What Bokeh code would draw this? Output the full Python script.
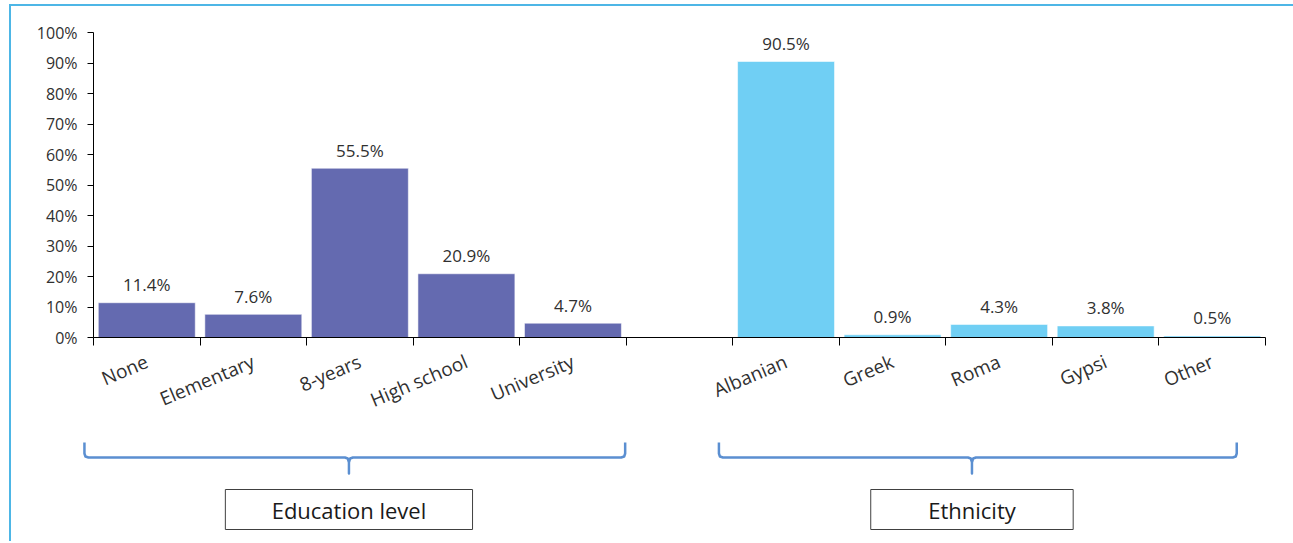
from bokeh.plotting import figure
from bokeh.layouts import column, row
from bokeh.models import Range1d, FixedTicker, PrintfTickFormatter, ColumnDataSource
from bokeh.core.properties import value
from bokeh.embed import file_html
from bokeh.resources import INLINE

# ---------------- data ----------------
edu_categories = ["None", "Elementary", "8-years", "High school", "University"]
edu_values = [11.4, 7.6, 55.5, 20.9, 4.7]
eth_categories = ["Albanian", "Greek", "Roma", "Gypsi", "Other"]
eth_values = [90.5, 0.9, 4.3, 3.8, 0.5]
group_names = ["Education level", "Ethnicity"]
y_ticks = [0, 10, 20, 30, 40, 50, 60, 70, 80, 90, 100]

EDU_COLOR = "#646AB0"
ETH_COLOR = "#70CFF4"
BRACE_COLOR = "#5B8FD1"
FONT = "Open Sans"
TXT = "#303030"

# slot layout: 5 education slots, 1 empty slot, 5 ethnicity slots
n_slots = len(edu_categories) + 1 + len(eth_categories)
edu_start = 0
eth_start = len(edu_categories) + 1
edu_x = [edu_start + i + 0.5 for i in range(len(edu_categories))]
eth_x = [eth_start + i + 0.5 for i in range(len(eth_categories))]

W = 1293
LEFT, RIGHT = 93, 28
FRAME_W = W - LEFT - RIGHT
slot_px = FRAME_W / n_slots
TOP, FRAME_H, BOTTOM = 32, 305, 100
H1 = TOP + FRAME_H + BOTTOM

# ---------------- main chart ----------------
p = figure(width=W, height=H1, output_backend="svg", toolbar_location=None,
           x_range=Range1d(0, n_slots), y_range=Range1d(0, 100),
           min_border_left=LEFT, min_border_right=RIGHT, min_border_top=TOP,
           min_border_bottom=BOTTOM)
p.outline_line_color = None
p.grid.visible = False
p.background_fill_color = "white"
p.border_fill_color = None

edu_src = ColumnDataSource(dict(x=edu_x, top=edu_values,
                                lab=[f"{v:.1f}%" for v in edu_values]))
eth_src = ColumnDataSource(dict(x=eth_x, top=eth_values,
                                lab=[f"{v:.1f}%" for v in eth_values]))
for src, col in ((edu_src, EDU_COLOR), (eth_src, ETH_COLOR)):
    p.vbar(x="x", top="top", bottom=0, width=0.91, source=src,
           fill_color=col, line_color="white", line_alpha=0.55, line_width=1)
    p.text(x="x", y="top", text="lab", source=src, text_align="center",
           text_baseline="alphabetic", y_offset=-18,
           text_font=value(FONT), text_font_size="17px", text_color=TXT)

# y axis
ya = p.yaxis[0]
ya.ticker = FixedTicker(ticks=y_ticks)
ya.formatter = PrintfTickFormatter(format="%d%%")
ya.major_tick_out = 6
ya.major_tick_in = 0
ya.minor_tick_line_color = None
ya.axis_line_color = "black"
ya.major_tick_line_color = "black"
ya.major_label_text_font = FONT
ya.major_label_text_font_size = "16px"
ya.major_label_text_color = TXT
ya.major_label_standoff = 10

# x axis: labels at slot centres, ticks at slot boundaries
xa = p.xaxis[0]
centers = edu_x + eth_x
xa.ticker = FixedTicker(ticks=centers, minor_ticks=list(range(n_slots + 1)))
xa.major_label_overrides = {c: lab for c, lab in zip(centers, edu_categories + eth_categories)}
xa.major_tick_line_color = None
xa.major_tick_out = 0
xa.major_tick_in = 0
xa.minor_tick_out = 8
xa.minor_tick_in = 0
xa.minor_tick_line_color = "black"
xa.axis_line_color = "black"
xa.major_label_orientation = 0.4
xa.major_label_standoff = 15
xa.major_label_text_font = FONT
xa.major_label_text_font_size = "19px"
xa.major_label_text_color = TXT

# ---------------- group braces ----------------
# full-width frame, same slot scale as the main chart
x_start = -LEFT / slot_px
x_end = n_slots + RIGHT / slot_px
q = figure(width=W, height=104, output_backend="svg", toolbar_location=None,
           x_range=Range1d(x_start, x_end), y_range=Range1d(104, 0),
           x_axis_location=None, y_axis_location=None,
           min_border_left=0, min_border_right=0, min_border_top=0, min_border_bottom=0)
q.outline_line_color = None
q.grid.visible = False
q.background_fill_color = None
q.border_fill_color = None

# brace extents in slot units (group spans)
spans = [(edu_start - 0.085, edu_start + len(edu_categories) - 0.01),
         (eth_start - 0.13, eth_start + len(eth_categories) - 0.27)]
box_w = [2.32, 1.90]
top_y, mid_y, tip_y = 5, 20, 36
r = 4 / slot_px
for (L, R), name, bw in zip(spans, group_names, box_w):
    C = (L + R) / 2 - 0.055
    xs = [L, L, L + 0.25 * r, L + r, C - r, C - 0.3 * r, C, C,
          C, C + 0.3 * r, C + r, R - r, R - 0.25 * r, R, R]
    ys = [top_y, mid_y - 4, mid_y - 1, mid_y, mid_y, mid_y + 1, mid_y + 5, tip_y,
          mid_y + 5, mid_y + 1, mid_y, mid_y, mid_y - 1, mid_y - 4, top_y]
    q.line(xs, ys, line_color=BRACE_COLOR, line_width=2.5, line_join="round")
    q.quad(left=C - bw / 2, right=C + bw / 2, top=52, bottom=92,
           fill_color="white", line_color="#404040", line_width=1)
    q.text(x=[C], y=[72], text=[name], text_align="center", text_baseline="middle",
           text_font=value(FONT), text_font_size="22px", text_color="#1a1a1a")

frame_css = ("inset 0 4px 0 0 white, inset 9px 0 0 0 white, "
             "inset 0 6px 0 0 #4DB6E6, inset 11px 0 0 0 #4DB6E6")
layout = column(p, row(q), styles={"box-shadow": frame_css, "background": "white"})
open("out.html", "w").write(file_html(layout, INLINE))
